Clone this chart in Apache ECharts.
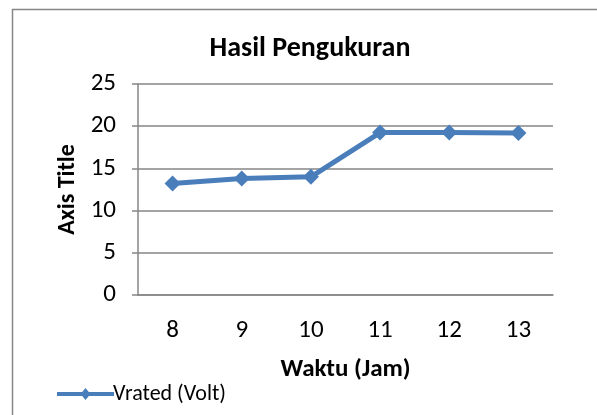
<!DOCTYPE html>
<html>
<head>
<meta charset="utf-8">
<script src="https://cdn.jsdelivr.net/npm/echarts@6/dist/echarts.min.js"></script>
<style>
html,body{margin:0;padding:0;background:#fff;}
#chart{width:597px;height:415px;}
</style>
</head>
<body>
<div id="chart"></div>
<script>
var categories = ['8', '9', '10', '11', '12', '13'];
var vrated = [13.2, 13.8, 14.0, 19.25, 19.25, 19.2];
var seriesName = 'Vrated (Volt)';
var yMin = 0, yMax = 25, yStep = 5;

var FONT = 'Carlito, Lato, "Open Sans", sans-serif';
var chart = echarts.init(document.getElementById('chart'), null, {renderer: 'canvas'});
chart.setOption({
  animation: false,
  backgroundColor: '#fff',
  graphic: [{
    type: 'polyline',
    shape: {points: [[12.5, 420], [12.5, 9.5], [600, 9.5]]},
    style: {stroke: '#868686', lineWidth: 1.5, fill: null},
    silent: true
  }],
  title: {
    text: 'Hasil Pengukuran',
    left: 305, top: 30, textAlign: 'center',
    textStyle: {fontFamily: FONT, fontSize: 28, fontWeight: 'bold', color: '#000'}
  },
  legend: {
    left: 52, top: 378,
    itemWidth: 57, itemHeight: 12, itemGap: 4,
    textStyle: {fontFamily: FONT, fontSize: 22, color: '#000', padding: [0,0,0,-6]},
    data: [{name: seriesName, icon: 'path://M0,4 L57,4 L57,8 L0,8 Z M23.5,6 L28.5,0 L33.5,6 L28.5,12 Z'}]
  },
  grid: {left: 138, right: 44, top: 84, bottom: 120},
  xAxis: {
    type: 'category',
    data: categories,
    boundaryGap: true,
    name: 'Waktu (Jam)',
    nameLocation: 'middle',
    nameGap: 62,
    nameTextStyle: {fontFamily: FONT, fontSize: 25, fontWeight: 'bold', color: '#000'},
    axisLine: {lineStyle: {color: '#868686', width: 1.5}},
    axisTick: {show: false},
    axisLabel: {fontFamily: FONT, fontSize: 25, color: '#000', margin: 23}
  },
  yAxis: {
    type: 'value',
    min: yMin, max: yMax, interval: yStep,
    name: 'Axis Title',
    nameLocation: 'middle',
    nameGap: 55,
    nameRotate: 90,
    nameTextStyle: {fontFamily: FONT, fontSize: 24, fontWeight: 'bold', color: '#000'},
    axisLine: {show: true, lineStyle: {color: '#868686', width: 1.5}},
    axisTick: {show: true, length: 6, lineStyle: {color: '#868686', width: 1.5}},
    axisLabel: {fontFamily: FONT, fontSize: 25, color: '#000', margin: 22},
    splitLine: {show: true, lineStyle: {color: '#868686', width: 1.5}}
  },
  series: [{
    name: seriesName,
    type: 'line',
    data: vrated,
    symbol: 'diamond',
    symbolSize: 16,
    lineStyle: {color: '#4a7ebb', width: 5},
    itemStyle: {color: '#4a7ebb'}
  }]
});
</script>
</body>
</html>
